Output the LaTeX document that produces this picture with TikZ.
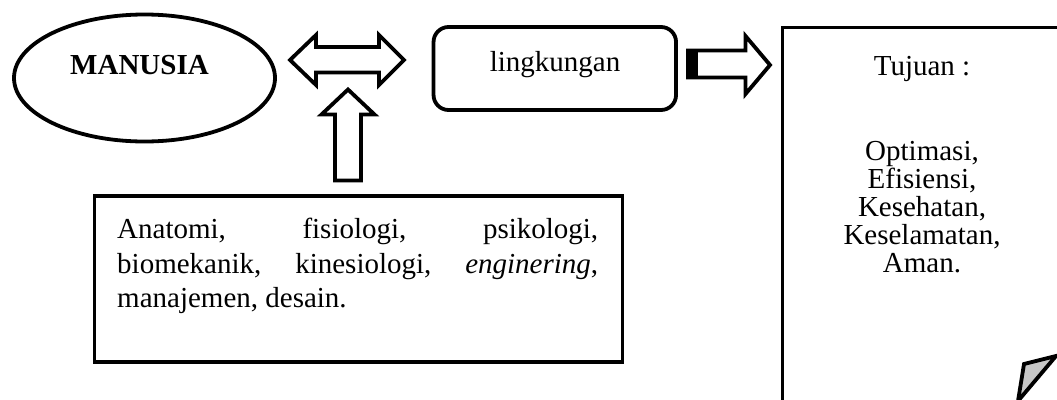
\documentclass[tikz,border=0pt]{standalone}
\usepackage{fontspec}
\setmainfont{Liberation Serif}
\usetikzlibrary{shapes}

\begin{document}
\begin{tikzpicture}[x=1pt,y=-1pt,
  garis/.style={line width=3.8pt,line join=miter},
  teks/.style={font=\fontsize{29}{34.5}\selectfont,inner sep=0pt}]
\useasboundingbox (0,0) rectangle (1057,399);
\clip (0,0) rectangle (1057,399);
% manusia
\node[garis,draw,ellipse,inner sep=0pt,minimum width=261pt,minimum height=127pt] (manusia) at (144.5,78) {};
\node[teks,anchor=base] (manusiatxt) at (139.5,74) {\textbf{MANUSIA}};
% lingkungan
\node[garis,draw,rounded corners=15pt,minimum width=242.5pt,minimum height=83pt] (lingk) at (554.8,68.5) {};
\node[teks,anchor=base] (lingktxt) at (555,71) {lingkungan};
% panah dua arah
\draw[garis] (290,60) -- (316,35) -- (316,47) -- (379,47) -- (379,35) -- (404,60)
  -- (379,85) -- (379,72.5) -- (316,72.5) -- (316,85) -- cycle;
% panah ke atas
\draw[garis] (348,89.5) -- (374.5,114.5) -- (361,114.5) -- (361,180.5) -- (335,180.5)
  -- (335,114.5) -- (321.5,114.5) -- cycle;
% panah ke kanan
\draw[garis] (688,50.5) -- (745.5,50.5) -- (745.5,36) -- (770,65) -- (745.5,94)
  -- (745.5,77.5) -- (688,77.5) -- cycle;
\fill (686,48.6) rectangle (698,79.4);
% ilmu
\node[garis,draw,inner sep=0pt,minimum width=528pt,minimum height=166pt] (ilmu) at (358.5,279) {};
\node[teks,anchor=north west,text width=481pt,align=justify] (ilmutxt) at (117,218.2)
  {Anatomi, fisiologi, psikologi,\linebreak biomekanik, kinesiologi, \textit{enginering},\linebreak manajemen, desain.};
% tujuan
\draw[garis] (782.5,27.5) rectangle (1062,430);
\filldraw[garis,fill=black!22] (1024,364) -- (1056,356) -- (1018,401) -- cycle;
\node[teks,anchor=base] (tujuan) at (922,75) {Tujuan :};
\node[teks,anchor=north,align=center,font=\fontsize{29}{28}\selectfont] (tujuanisi) at (922,141.2)
  {Optimasi,\\ Efisiensi,\\ Kesehatan,\\ Keselamatan,\\ Aman.};
\end{tikzpicture}
\end{document}
